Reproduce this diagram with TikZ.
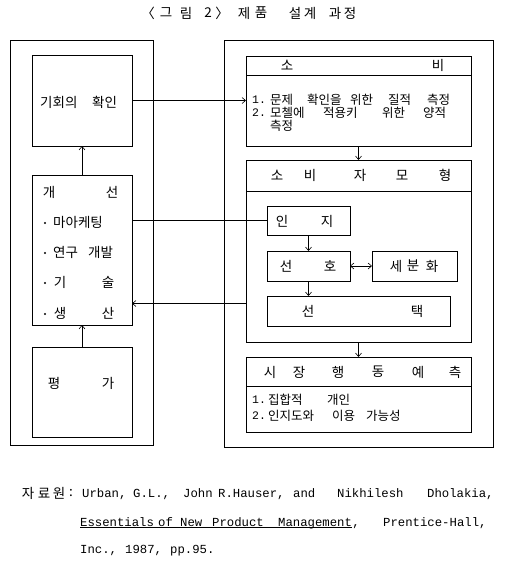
\documentclass[tikz,border=0pt]{standalone}
\usepackage{fontspec}
\newfontfamily\kr{Noto Sans CJK KR}
\newfontfamily\mono{Liberation Mono}
\usetikzlibrary{arrows.meta}
\begin{document}
\begin{tikzpicture}[x=1pt,y=-1pt,
 bx/.style={draw, line width=0.75pt, inner sep=0pt, outer sep=0pt},
 kt/.style={font=\kr\fontsize{13.5}{15}\selectfont, inner sep=0pt},
 ks/.style={font=\kr\fontsize{12.5}{14}\selectfont, inner sep=0pt, anchor=west},
 kw/.style={kt, anchor=west},
 dot/.style={circle, fill, inner sep=0pt, minimum size=2.2pt},
 mt/.style={font=\mono\fontsize{12.3}{14}\selectfont, inner sep=0pt, anchor=base west},
 mn/.style={font=\mono\fontsize{11.5}{13}\selectfont, inner sep=0pt, anchor=west},
 arr/.style={-{Straight Barb[length=3.5pt,width=6pt]}, line width=0.6pt},
 darr/.style={{Straight Barb[length=3.5pt,width=6pt]}-{Straight Barb[length=3.5pt,width=6pt]}, line width=0.6pt},
 ln/.style={line width=0.6pt}]
\useasboundingbox (0,0) rectangle (504,568);
\fill[white] (0,0) rectangle (504,568);

% title
\foreach \x/\c [count=\i] in {148/〈,166/그,186/림,208/2,222/〉,244/제,261/품,295/설,310/계,335/과,350/정}
  \node[kt] (title\i) at (\x,13) {\c};

% outer panels
\node[bx, minimum width=143pt, minimum height=405pt] (outerL) at (81.5,242.5) {};
\node[bx, minimum width=269pt, minimum height=407pt] (outerR) at (358.5,243.5) {};

% left boxes
\node[bx, minimum width=100pt, minimum height=91pt] (gihoe) at (82,100.5) {};
\node[bx, minimum width=100pt, minimum height=150pt] (gaeseon) at (82,250) {};
\node[bx, minimum width=100pt, minimum height=90pt] (pyeongga) at (82,392) {};

\node[kw] (t1) at (40,102) {기회의};
\node[kw] (t2) at (92,102) {확인};
\node[kt] (t3) at (49,192) {개};
\node[kt] (t4) at (112,192) {선};
\node[dot] (b1) at (45,223) {};
\node[kw] (t5) at (53,222) {마아케팅};
\node[dot] (b2) at (45,253) {};
\node[kw] (t6) at (53,252) {연구};
\node[kw] (t7) at (88,252) {개발};
\node[dot] (b3) at (45,283) {};
\node[kt] (t8) at (60,282) {기};
\node[kt] (t9) at (108,282) {술};
\node[dot] (b4) at (45,314) {};
\node[kt] (t10) at (60,313) {생};
\node[kt] (t11) at (108,313) {산};
\node[kt] (t12) at (54,383) {평};
\node[kt] (t13) at (108,383) {가};

% right boxes
\node[bx, minimum width=225pt, minimum height=19pt] (sobiH) at (358.5,65.5) {};
\node[bx, minimum width=225pt, minimum height=71pt] (sobiB) at (358.5,110.5) {};
\node[bx, minimum width=225pt, minimum height=31pt] (modelH) at (358.5,175.5) {};
\node[bx, minimum width=225pt, minimum height=151pt] (modelB) at (358.5,266.5) {};
\node[bx, minimum width=83pt, minimum height=29pt] (inji) at (308.5,220.5) {};
\node[bx, minimum width=83pt, minimum height=30pt] (seonho) at (308.5,266) {};
\node[bx, minimum width=85pt, minimum height=30pt] (segment) at (414.5,266) {};
\node[bx, minimum width=183pt, minimum height=30pt] (seontaek) at (358.5,311) {};
\node[bx, minimum width=225pt, minimum height=29pt] (marketH) at (358.5,371.5) {};
\node[bx, minimum width=225pt, minimum height=46pt] (marketB) at (358.5,409) {};

% headers
\node[kt] (h1) at (287,65) {소};
\node[kt] (h2) at (438,65) {비};
\foreach \x/\c [count=\i] in {277/소,310/비,360/자,402/모,445/형}
  \node[kt] (mh\i) at (\x,175) {\c};
\foreach \x/\c [count=\i] in {270/시,299/장,338/행,378/동,418/예,455/측}
  \node[kt] (kh\i) at (\x,372) {\c};

% inner model text
\node[kt] (i1) at (282,221) {인};
\node[kt] (i2) at (327,221) {지};
\node[kt] (s1) at (286,266) {선};
\node[kt] (s2) at (330,266) {호};
\node[kt] (g1) at (396,266) {세};
\node[kt] (g2) at (413,266) {분};
\node[kt] (g3) at (432,266) {화};
\node[kt] (c1) at (308,311) {선};
\node[kt] (c2) at (417,311) {택};

% sobi body
\node[mn] (n1) at (252,100) {1.};
\node[ks] (w1) at (270,100) {문제};
\node[ks] (w2) at (307,100) {확인을};
\node[ks] (w3) at (350,100) {위한};
\node[ks] (w4) at (388,100) {질적};
\node[ks] (w5) at (427,100) {측정};
\node[mn] (n2) at (252,113) {2.};
\node[ks] (w6) at (270,113) {모첼에};
\node[ks] (w7) at (323,113) {적용키};
\node[ks] (w8) at (382,113) {위한};
\node[ks] (w9) at (423,113) {양적};
\node[ks] (w10) at (270,126) {측정};

% market body
\node[mn] (n3) at (252,400) {1.};
\node[ks] (m1) at (268,400) {집합적};
\node[ks] (m2) at (327,400) {개인};
\node[mn] (n4) at (252,416) {2.};
\node[ks] (m3) at (268,416) {인지도와};
\node[ks] (m4) at (332,416) {이용};
\node[ks] (m5) at (366,416) {가능성};

% connectors
\draw[arr] (gaeseon.north) -- (gihoe.south);
\draw[arr] (pyeongga.north) -- (gaeseon.south);
\draw[arr] (gihoe.east) -- (gihoe.east -| sobiB.west);
\draw[ln] (inji.west) -- (inji.west -| gaeseon.east);
\coordinate (fb) at ([yshift=-37pt]modelB.west);
\draw[arr] (fb) -- (fb -| gaeseon.east);
\draw[arr] (sobiB.south) -- (modelH.north);
\draw[arr] (modelB.south) -- (marketH.north);
\draw[arr] (inji.south) -- (seonho.north);
\draw[arr] (seonho.south) -- (seonho.south |- seontaek.north);
\draw[darr] (seonho.east) -- (segment.west);

% source
\node[kt] (f1) at (28,493) {자};
\node[kt] (f2) at (44,493) {료};
\node[kt] (f3) at (59,493) {원};
\node[kt] (f4) at (71,493) {:};
\node[mt] (e1) at (82,497) {Urban,};
\node[mt] (e2) at (133,497) {G.L.,};
\node[mt] (e3) at (183,497) {John};
\node[mt] (e4) at (218,497) {R.Hauser,};
\node[mt] (e5) at (293,497) {and};
\node[mt] (e6) at (337,497) {Nikhilesh};
\node[mt] (e7) at (427,497) {Dholakia,};
\node[mt] (l1) at (80,526) {Essentials};
\node[mt] (l2) at (158,526) {of};
\node[mt] (l3) at (180,526) {New};
\node[mt] (l4) at (212,526) {Product};
\node[mt] (l5) at (278,526) {Management};
\node[mt] (l6) at (l5.base east) {,};
\node[mt] (l7) at (383,526) {Prentice-Hall,};
\draw[line width=0.6pt] ([yshift=-1.5pt]l1.base west) -- ([yshift=-1.5pt]l5.base east);
\node[mt] (r1) at (80,553) {Inc.,};
\node[mt] (r2) at (125,553) {1987,};
\node[mt] (r3) at (170,553) {pp.95.};
\end{tikzpicture}
\end{document}
